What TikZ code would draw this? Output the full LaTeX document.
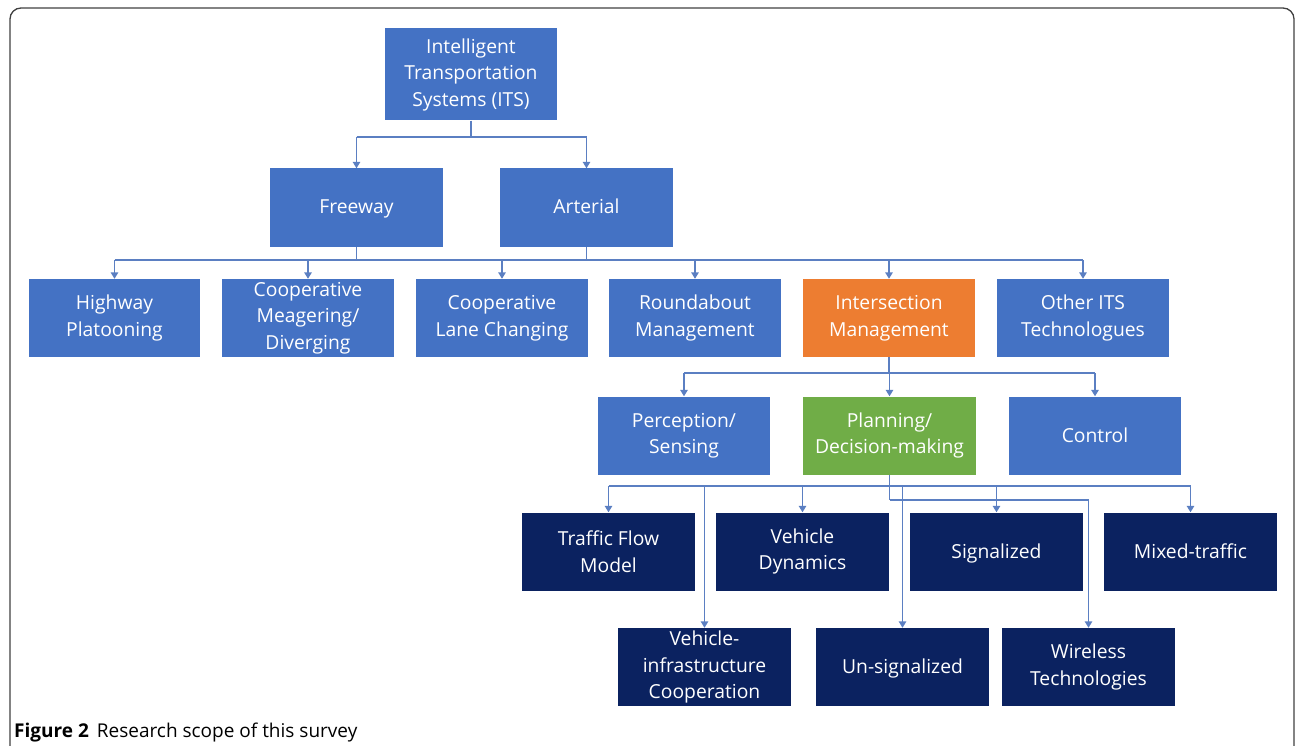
\documentclass[tikz,border=0pt]{standalone}
\usepackage{fontspec}
\setmainfont{Open Sans}
\usetikzlibrary{arrows.meta}
\definecolor{boxblue}{HTML}{4472C4}
\definecolor{boxorange}{HTML}{ED7D31}
\definecolor{boxgreen}{HTML}{70AD47}
\definecolor{boxnavy}{HTML}{0B2260}
\definecolor{linecol}{HTML}{5B7FC2}
\definecolor{framecol}{HTML}{404040}
\tikzset{
  basebx/.style={rectangle, fill=boxblue, text=white, minimum width=173, minimum height=78,
    inner sep=2pt, font=\fontsize{19.3}{26.5}\selectfont},
  bx/.style={basebx, align=center},
  sbx/.style={basebx, text height=16pt, text depth=3pt},
  orangefill/.style={fill=boxorange},
  greenfill/.style={fill=boxgreen},
  navyfill/.style={fill=boxnavy},
  conn/.style={draw=linecol, line width=1.4pt},
  arr/.style={conn, -{Triangle[width=7.5pt,length=6.5pt]}},
}
\begin{document}
\begin{tikzpicture}[x=1pt,y=-1pt]
\useasboundingbox (0,0) rectangle (1295,746);
% frame
\draw[framecol, line width=1.3pt, rounded corners=11pt] (10,746) -- (10,8) -- (1294,8) -- (1294,746);
% nodes
\node[bx, minimum height=92, minimum width=172] (its) at (471,74.5) {Intelligent\\Transportation\\Systems (ITS)};
\node[sbx] (fw) at (356.5,207.5) {Freeway};
\node[sbx] (ar) at (586.5,207.5) {Arterial};
\node[bx, minimum width=171] (hp) at (114.5,318) {Highway\\Platooning};
\node[bx, minimum width=172] (cm) at (308,318) {Cooperative\\Meagering/\\Diverging};
\node[bx, minimum width=172] (cl) at (502,318) {Cooperative\\Lane Changing};
\node[bx, minimum width=172] (rm) at (695,318) {Roundabout\\Management};
\node[bx, orangefill, minimum width=172] (im) at (889,318) {Intersection\\Management};
\node[bx, minimum width=172] (ot) at (1083,318) {Other ITS\\Technologues};
\node[bx, minimum width=172] (ps) at (684,435.5) {Perception/\\Sensing};
\node[bx, greenfill] (pd) at (889.5,435.5) {Planning/\\Decision-making};
\node[sbx, minimum width=172] (ct) at (1095,435.5) {Control};
\node[bx, navyfill] (tf) at (608.5,551.5) {Traffic Flow\\Model};
\node[bx, navyfill] (vd) at (802.5,551.5) {Vehicle\\Dynamics};
\node[sbx, navyfill] (sg) at (996.5,551.5) {Signalized};
\node[sbx, navyfill] (mx) at (1190.5,551.5) {Mixed-traffic};
\node[bx, navyfill] (vi) at (704.5,667) {Vehicle-\\infrastructure\\Cooperation};
\node[sbx, navyfill] (us) at (902.5,667) {Un-signalized};
\node[bx, navyfill] (wt) at (1088.5,667) {Wireless\\Technologies};
% junction levels
\coordinate (h1) at (0,137);
\coordinate (h2) at (0,260);
\coordinate (h3) at (0,373);
\coordinate (h4) at (0,486);
\coordinate (h5) at (0,500);
% ITS -> Freeway / Arterial
\draw[conn] (its.south) -- (its.south |- h1);
\draw[conn] (fw.north |- h1) -- (ar.north |- h1);
\draw[arr] (fw.north |- h1) -- (fw.north);
\draw[arr] (ar.north |- h1) -- (ar.north);
% Freeway/Arterial -> row 3
\draw[conn] (fw.south) -- (fw.south |- h2);
\draw[conn] (ar.south) -- (ar.south |- h2);
\draw[conn] (hp.north |- h2) -- (ot.north |- h2);
\foreach \n in {hp,cm,cl,rm,im,ot} \draw[arr] (\n.north |- h2) -- (\n.north);
% Intersection -> row 4
\draw[conn] (im.south) -- (im.south |- h3);
\draw[conn] (ps.north |- h3) -- (ct.north |- h3);
\foreach \n in {ps,pd,ct} \draw[arr] (\n.north |- h3) -- (\n.north);
% Planning -> rows 5 and 6
\draw[conn] (pd.south) -- (pd.south |- h5);
\draw[conn] (tf.north |- h4) -- (mx.north |- h4);
\foreach \n in {tf,vd,sg,mx} \draw[arr] (\n.north |- h4) -- (\n.north);
\draw[arr] (vi.north |- h4) -- (vi.north);
\draw[arr] (us.north |- h4) -- (us.north);
\draw[conn] (pd.south |- h5) -- (wt.north |- h5);
\draw[arr] (wt.north |- h5) -- (wt.north);
% caption
\node[anchor=base west, inner sep=0pt, text=black, font=\fontsize{19}{22}\selectfont] (cap) at (14,737)
  {\textbf{Figure 2}\hspace{8pt}Research scope of this survey};
\end{tikzpicture}
\end{document}
